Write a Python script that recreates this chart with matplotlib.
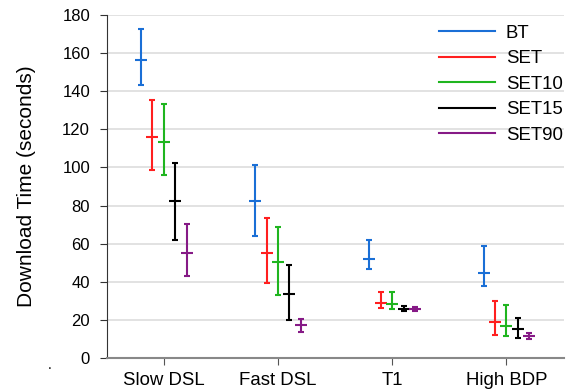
import matplotlib
matplotlib.use("Agg")
import matplotlib.pyplot as plt
import numpy as np

plt.rcParams['font.family'] = ['Liberation Sans', 'DejaVu Sans']

categories = ["Slow DSL", "Fast DSL", "T1", "High BDP"]
series = ["BT", "SET", "SET10", "SET15", "SET90"]
colors = ["#1a6fd6", "#ff1f1f", "#1fb51f", "#000000", "#861a86"]

means = {
    "BT":    [156.3, 82.6, 51.8, 44.4],
    "SET":   [116.2, 55.3, 29.0, 19.1],
    "SET10": [113.4, 50.4, 28.2, 16.6],
    "SET15": [82.4, 33.6, 25.9, 15.1],
    "SET90": [55.1, 17.2, 25.6, 11.5],
}
lows = {
    "BT":    [143.3, 64.0, 46.7, 37.8],
    "SET":   [98.7, 39.5, 26.1, 12.1],
    "SET10": [96.2, 33.1, 25.6, 11.5],
    "SET15": [62.1, 19.9, 24.8, 10.5],
    "SET90": [43.2, 13.6, 24.7, 10.0],
}
highs = {
    "BT":    [172.4, 101.3, 61.9, 59.0],
    "SET":   [135.6, 73.5, 34.5, 30.1],
    "SET10": [133.3, 68.9, 34.5, 28.0],
    "SET15": [102.2, 49.0, 27.3, 21.0],
    "SET90": [70.5, 20.3, 26.6, 13.1],
}
yticks = [0, 20, 40, 60, 80, 100, 120, 140, 160, 180]

fig = plt.figure(figsize=(5.70, 3.91), dpi=100)
ax = fig.add_axes([0.1872, 0.0844, 0.8014, 0.8772])

x = np.arange(len(categories))
offsets = [-0.2, -0.1, 0.0, 0.1, 0.2]
for s, c, off in zip(series, colors, offsets):
    m = np.array(means[s])
    lo = np.array(lows[s])
    hi = np.array(highs[s])
    ax.errorbar(x + off, m, yerr=[m - lo, hi - m], fmt='none', ecolor=c,
                elinewidth=1.5, capsize=2, capthick=1.5, zorder=3)
    ax.plot(x + off, m, linestyle='none', marker='_', markersize=8.5,
            markeredgewidth=1.5, color=c, zorder=3)
    ax.plot([], [], color=c, lw=1.5, label=s)

ax.set_xlim(-0.5, 3.5)
ax.set_ylim(0, 180)
ax.set_xticks(x)
ax.set_xticklabels(categories, fontsize=13.4)
ax.set_yticks(yticks)
ax.set_yticklabels([str(v) for v in yticks], fontsize=12)
ax.set_ylabel("Download Time (seconds)", fontsize=15, labelpad=18.5)

ax.grid(axis='y', color='#dddddd', linewidth=1.2, zorder=0)
ax.set_axisbelow(True)
for sp in ['top', 'right']:
    ax.spines[sp].set_visible(False)
ax.spines['left'].set_color('#333333')
ax.spines['bottom'].set_color('#888888')
ax.spines['bottom'].set_linewidth(1.5)
ax.tick_params(axis='y', direction='out', length=5, color='#333333', pad=7)
ax.tick_params(axis='x', direction='out', length=5, color='#555555', pad=5)

leg = ax.legend(loc='upper right', frameon=False, fontsize=13.4,
                handlelength=3.0, handletextpad=0.6, labelspacing=0.45,
                bbox_to_anchor=(1.035, 1.02))

fig.text(50 / 570, 1 - 365 / 391, ".", fontsize=10, ha='center', va='center')

fig.savefig("out.png", dpi=100)
